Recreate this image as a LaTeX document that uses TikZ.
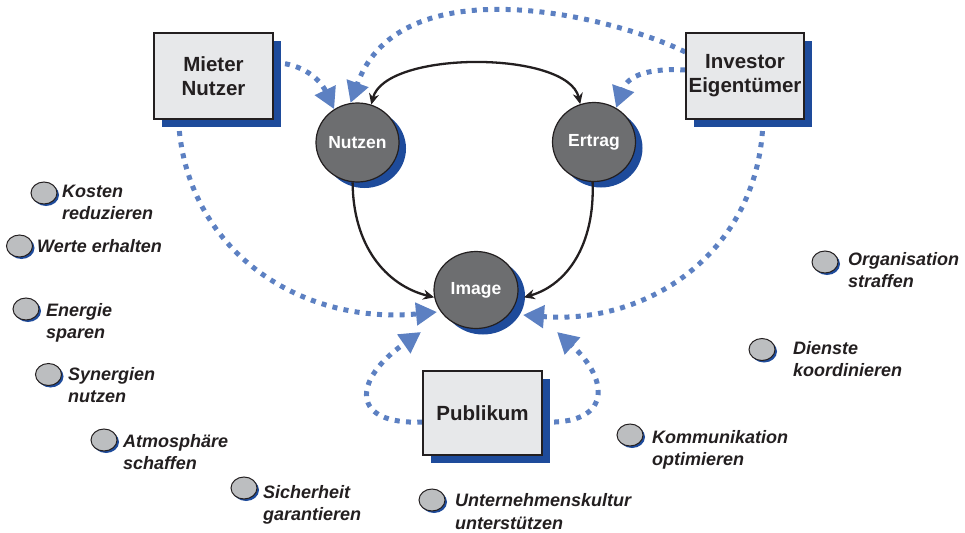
\documentclass[tikz,border=0pt]{standalone}
\usepackage{fontspec}
\setmainfont{Liberation Sans}
\usetikzlibrary{arrows.meta,shapes.geometric,shadows,backgrounds}
\definecolor{shb}{RGB}{30,75,155}
\definecolor{dotblue}{RGB}{92,128,194}
\definecolor{boxfill}{RGB}{231,232,234}
\definecolor{ink}{RGB}{35,31,32}
\definecolor{circfill}{RGB}{109,110,112}
\definecolor{smallfill}{RGB}{188,190,192}
\tikzset{
  box/.style={rectangle, draw=ink, line width=1.5pt, fill=boxfill, minimum width=119pt, minimum height=86pt, inner sep=0pt, align=center, text=ink, font=\fontsize{20.5}{24}\selectfont\bfseries, drop shadow={shadow xshift=8pt, shadow yshift=-8pt, fill=shb, opacity=1}},
  bigc/.style={ellipse, draw=ink, line width=1.2pt, fill=circfill, minimum width=83pt, minimum height=79pt, inner sep=0pt, text=white, font=\fontsize{17.5}{20}\selectfont\bfseries, drop shadow={shadow xshift=7pt, shadow yshift=-6pt, fill=shb, opacity=1}},
  smalldot/.style={ellipse, draw=ink, line width=1pt, fill=smallfill, minimum width=26pt, minimum height=22pt, inner sep=0pt, drop shadow={shadow xshift=2pt, shadow yshift=-2pt, fill=shb, opacity=1}},
  lab/.style={anchor=base west, align=left, inner sep=0pt, text=ink, font=\fontsize{18}{22.5}\selectfont\bfseries\itshape},
  blueflow/.style={draw=dotblue, line width=5pt, dash pattern=on 5pt off 6.3pt, -{Triangle[length=21pt,width=22pt]}},
  blackflow/.style={draw=ink, line width=2.3pt, -{Stealth[length=11pt,width=10pt]}},
}
\begin{document}
\begin{tikzpicture}[x=1pt,y=-1pt]
\useasboundingbox (0,0) rectangle (965,532);
\node[box] (mieter) at (213.5,76) {Mieter\\Nutzer};
\node[box, minimum width=118pt] (investor) at (745,76) {Investor\\Eigentümer};
\node[box, minimum height=84pt] (publikum) at (482.5,413) {Publikum};
\node[bigc] (nutzen) at (357.5,142.5) {Nutzen};
\node[bigc] (ertrag) at (594,142) {Ertrag};
\node[bigc, minimum width=84pt, minimum height=77pt] (image) at (476,290) {Image};

% two-line labels are placed by the baseline of their last line
\node[smalldot] (d1) at (44,193) {};
\node[lab] (l1) at (62,219.5) {Kosten\\reduzieren};
\node[smalldot] (d2) at (19.5,246) {};
\node[lab] (l2) at (37,252) {Werte erhalten};
\node[smalldot] (d3) at (26,309) {};
\node[lab] (l3) at (46,338.5) {Energie\\sparen};
\node[smalldot] (d4) at (48.5,374.5) {};
\node[lab] (l4) at (68,402.5) {Synergien\\nutzen};
\node[smalldot] (d5) at (104,440) {};
\node[lab] (l5) at (123,469.5) {Atmosphäre\\schaffen};
\node[smalldot] (d6) at (244,488) {};
\node[lab] (l6) at (263,520.5) {Sicherheit\\garantieren};
\node[smalldot] (d7) at (432,500) {};
\node[lab] (l7) at (455,529) {Unternehmenskultur\\unterstützen};
\node[smalldot] (d8) at (630,435) {};
\node[lab] (l8) at (652,465.5) {Kommunikation\\optimieren};
\node[smalldot] (d9) at (762,349.5) {};
\node[lab] (l9) at (793,376.5) {Dienste\\koordinieren};
\node[smalldot] (d10) at (825,262) {};
\node[lab] (l10) at (848,287.5) {Organisation\\straffen};

\coordinate (pubLtip) at (421,332);
\coordinate (pubRtip) at (557,332);
\coordinate (invImgTip) at (523,315);
\coordinate (mietImgTip) at (437,312);

\begin{scope}[on background layer]
\draw[blueflow] ([yshift=13pt]mieter.east) .. controls (295,62) and (318,75) .. (nutzen.125);
\draw[blueflow] ([yshift=24pt]investor.west) .. controls (610,15) and (400,-35) .. (nutzen.100);
\draw[blueflow] ([yshift=6pt]investor.west) .. controls (650,68) and (628,75) .. (ertrag.57);
\draw[blueflow] ([xshift=-35pt]mieter.south) .. controls (185,250) and (300,325) .. (mietImgTip);
\draw[blueflow] ([xshift=18pt]investor.south) .. controls (760,250) and (650,325) .. (invImgTip);
\draw[blueflow] ([yshift=-9pt]publikum.west) .. controls (350,425) and (352,380) .. (pubLtip);
\draw[blueflow] ([yshift=-9pt]publikum.east) .. controls (612,425) and (610,380) .. (pubRtip);
\end{scope}

\draw[blackflow, {Stealth[length=11pt,width=10pt]}-{Stealth[length=11pt,width=10pt]}] (nutzen.70) .. controls (385,50) and (568,50) .. (ertrag.110);
\draw[blackflow] (nutzen.263) .. controls (353,245) and (385,285) .. (image.190);
\draw[blackflow] (ertrag.268) .. controls (595,245) and (567,285) .. ([xshift=6pt]image.350);
\end{tikzpicture}
\end{document}
